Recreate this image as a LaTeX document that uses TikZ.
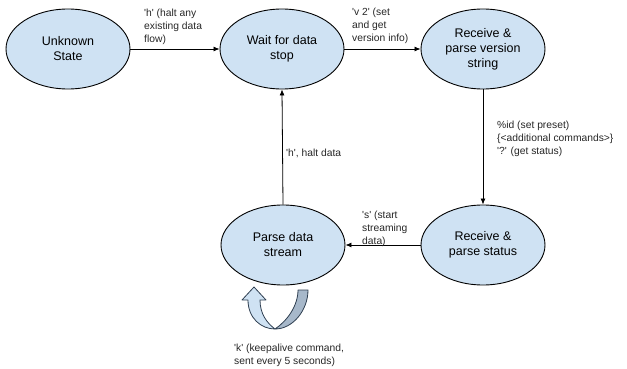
\documentclass[tikz,border=0pt]{standalone}
\usepackage{fontspec}
\setmainfont{Liberation Sans}[Ligatures=TeXOff]
\usetikzlibrary{shapes.geometric,arrows.meta}
\definecolor{fillb}{HTML}{CFE2F3}
\definecolor{darkb}{HTML}{A7B8CA}
\definecolor{edgeb}{HTML}{2E3E50}
\begin{document}
\begin{tikzpicture}[x=1pt,y=-1pt,
  state/.style={ellipse, draw=black, line width=0.9pt, fill=fillb, minimum width=124pt, minimum height=80pt, inner sep=0pt, align=center, font=\fontsize{12.5}{15}\selectfont},
  lbl/.style={anchor=west, align=left, inner sep=0pt, font=\fontsize{10.3}{13}\selectfont, text=black!85},
  conn/.style={line width=0.8pt, -{Latex[length=6pt,width=5pt]}}]
\useasboundingbox (0,0) rectangle (627,369);
\node[state] (u) at (68,49) {Unknown\\State};
\node[state] (w) at (282,49) {Wait for data\\stop};
\node[state] (rv) at (483,49) {Receive \&\\parse version\\string};
\node[state] (p) at (283,245) {Parse data\\stream};
\node[state] (rs) at (483,245) {Receive \&\\parse status};
\draw[conn] (u.east) -- (w.west);
\draw[conn] (w.east) -- (rv.west);
\draw[conn] (rv.south) -- (rs.north);
\draw[conn] (rs.west) -- (p.east);
\draw[conn] (p.north) -- (w.south);
\node[lbl] (l1) at (144,27) {'h' (halt any\\existing data\\flow)};
\node[lbl] (l2) at (352,26) {'v 2' (set\\and get\\version info)};
\node[lbl] (l3) at (497,139) {\%id (set preset)\\\{<additional commands>\}\\'?' (get status)};
\node[lbl] (l4) at (286,153) {'h', halt data};
\node[lbl] (l5) at (362,229) {'s' (start\\streaming\\data)};
\node[lbl] (l6) at (234,355) {'k' (keepalive command,\\sent every 5 seconds)};
% U-turn arrow
\draw[edgeb, fill=darkb, line width=0.8pt, line join=round] (298,290) -- (308,290) .. controls (308,310) and (293,329) .. (275,329) .. controls (287,321) and (298,306) .. (298,290) -- cycle;
\draw[edgeb, fill=fillb, line width=0.8pt, line join=round] (260,300) -- (266,300) -- (254,287) -- (242,300) -- (248,300) .. controls (248,318) and (261,329) .. (275,329) .. controls (267,323) and (260,314) .. (260,300) -- cycle;
\end{tikzpicture}
\end{document}
